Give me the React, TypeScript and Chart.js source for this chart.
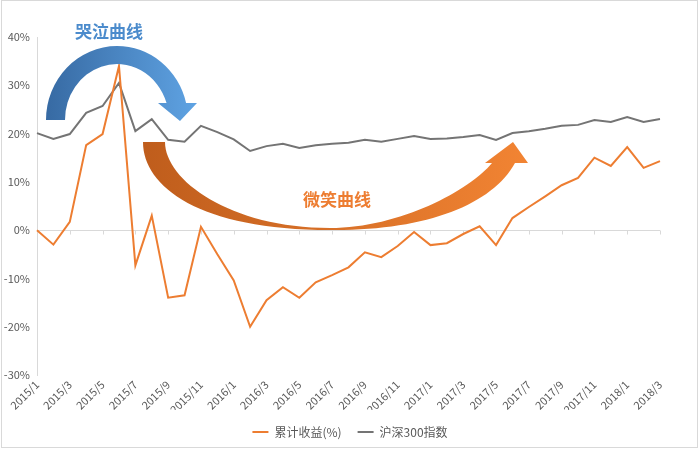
import { useEffect, useRef } from 'react';
import { Chart, registerables } from 'chart.js';

Chart.register(...registerables);

const months = [
  '2015/1', '2015/2', '2015/3', '2015/4', '2015/5', '2015/6', '2015/7', '2015/8', '2015/9', '2015/10', '2015/11', '2015/12',
  '2016/1', '2016/2', '2016/3', '2016/4', '2016/5', '2016/6', '2016/7', '2016/8', '2016/9', '2016/10', '2016/11', '2016/12',
  '2017/1', '2017/2', '2017/3', '2017/4', '2017/5', '2017/6', '2017/7', '2017/8', '2017/9', '2017/10', '2017/11', '2017/12',
  '2018/1', '2018/2', '2018/3',
];

const cumulativeReturn = [
  0, -3, 1.7, 17.6, 19.9, 34, -7.3, 3, -14, -13.5, 0.7, -5,
  -10.4, -20, -14.5, -11.8, -14, -10.8, -9.3, -7.7, -4.6, -5.6, -3.3, -0.4,
  -3.1, -2.7, -0.8, 0.8, -3.1, 2.5, 4.8, 7, 9.3, 10.8, 15, 13.3,
  17.2, 12.9, 14.3,
];

const csi300 = [
  20.1, 18.9, 19.9, 24.3, 25.7, 30.5, 20.5, 23, 18.7, 18.3, 21.6, 20.3,
  18.8, 16.4, 17.4, 17.9, 17.0, 17.6, 17.9, 18.1, 18.7, 18.3, 18.9, 19.5,
  18.9, 19.0, 19.3, 19.7, 18.7, 20.1, 20.5, 21.0, 21.6, 21.8, 22.8, 22.4,
  23.4, 22.4, 23.0,
];

const seriesNames = ['累计收益(%)', '沪深300指数'];
const annotationTexts = ['哭泣曲线', '微笑曲线'];

const FONT = '"Noto Sans CJK SC", "Noto Sans", sans-serif';
const ORANGE = '#ed7d31';
const GRAY = '#747474';
const TEXT = '#595959';

const decorPlugin = {
  id: 'decor',
  beforeDraw(chart: any) {
    const ctx = chart.ctx;
    ctx.save();
    ctx.fillStyle = '#ffffff';
    ctx.fillRect(0, 0, chart.width, chart.height);
    ctx.strokeStyle = '#d9d9d9';
    ctx.lineWidth = 1;
    ctx.strokeRect(1.5, 0.5, 696, 447);
    ctx.restore();
  },
  beforeDatasetsDraw(chart: any) {
    const ctx = chart.ctx;
    const xs = chart.scales.x;
    const y0 = Math.round(chart.scales.y.getPixelForValue(0)) + 0.5;
    ctx.save();
    ctx.strokeStyle = '#d9d9d9';
    ctx.lineWidth = 1;
    ctx.beginPath();
    for (let i = 0; i < months.length; i += 2) {
      const x = Math.round(xs.getPixelForValue(i)) + 0.5;
      ctx.moveTo(x, y0);
      ctx.lineTo(x, y0 + 4);
    }
    ctx.stroke();
    ctx.restore();
  },
  afterDraw(chart: any) {
    const ctx = chart.ctx;
    ctx.save();

    // Blue "crying" arrow
    const bx = 117, by = 120;
    const oRx = 71, oRy = 74, iRx = 52, iRy = 56, endY = 103;
    const aO = 2 * Math.PI - Math.asin((by - endY) / oRy);
    const aI = 2 * Math.PI - Math.asin((by - endY) / iRy);
    const bg = ctx.createLinearGradient(46, 0, 197, 0);
    bg.addColorStop(0, '#376aa3');
    bg.addColorStop(1, '#5fa3e3');
    ctx.fillStyle = bg;
    ctx.beginPath();
    ctx.ellipse(bx, by, oRx, oRy, 0, Math.PI, aO, false);
    ctx.lineTo(197, endY);
    ctx.lineTo(180, 121);
    ctx.lineTo(158, endY);
    ctx.ellipse(bx, by, iRx, iRy, 0, aI, Math.PI, true);
    ctx.closePath();
    ctx.fill();

    // Orange "smile" arrow
    const og = ctx.createLinearGradient(143, 0, 528, 0);
    og.addColorStop(0, '#bf5d1c');
    og.addColorStop(1, '#f28433');
    ctx.fillStyle = og;
    ctx.beginPath();
    ctx.moveTo(143, 142);
    ctx.bezierCurveTo(143, 187, 200, 230, 330, 230);
    ctx.bezierCurveTo(425, 231, 492, 205, 515, 163);
    ctx.lineTo(528, 163);
    ctx.lineTo(513, 142);
    ctx.lineTo(485, 163);
    ctx.lineTo(492, 163);
    ctx.bezierCurveTo(470, 190, 400, 228, 330, 228);
    ctx.bezierCurveTo(230, 228, 165, 180, 165, 142);
    ctx.closePath();
    ctx.fill();

    ctx.font = 'bold 17px ' + FONT;
    ctx.textAlign = 'center';
    ctx.textBaseline = 'middle';
    ctx.fillStyle = '#4b8bcc';
    ctx.fillText(annotationTexts[0], 109, 32);
    ctx.fillStyle = ORANGE;
    ctx.fillText(annotationTexts[1], 337, 200);
    ctx.restore();
  },
};

export default function App() {
  const canvasRef = useRef<HTMLCanvasElement | null>(null);

  useEffect(() => {
    if (!canvasRef.current) return;
    const chart = new Chart(canvasRef.current, {
      type: 'line',
      data: {
        labels: months,
        datasets: [
          {
            label: seriesNames[0],
            data: cumulativeReturn,
            borderColor: ORANGE,
            backgroundColor: ORANGE,
            borderWidth: 2,
            pointRadius: 0,
            tension: 0,
          },
          {
            label: seriesNames[1],
            data: csi300,
            borderColor: GRAY,
            backgroundColor: GRAY,
            borderWidth: 2,
            pointRadius: 0,
            tension: 0,
          },
        ],
      },
      options: {
        animation: false,
        responsive: false,
        layout: { padding: { left: 0, right: 0, top: 37, bottom: 2 } },
        plugins: {
          legend: {
            position: 'bottom',
            labels: {
              usePointStyle: true,
              pointStyle: 'line',
              pointStyleWidth: 16,
              boxHeight: 12,
              padding: 16,
              color: TEXT,
              font: { family: FONT, size: 12 },
            },
          },
          tooltip: { enabled: false },
        },
        scales: {
          x: {
            grid: { display: false, drawTicks: false },
            border: { display: false },
            afterFit: (s: any) => { s.height = 35; },
            ticks: {
              autoSkip: false,
              maxRotation: 45,
              minRotation: 45,
              padding: 3,
              color: TEXT,
              font: { family: FONT, size: 11 },
              callback: function (this: any, value: any, index: number) {
                return index % 2 === 0 ? this.getLabelForValue(value) : '';
              },
            },
          },
          y: {
            min: -30,
            max: 40,
            afterFit: (s: any) => { s.width = 37; },
            border: { display: true, color: '#d9d9d9' },
            grid: {
              drawTicks: false,
              color: (c: any) => (c.tick && c.tick.value === 0 ? '#d9d9d9' : 'rgba(0,0,0,0)'),
            },
            ticks: {
              stepSize: 10,
              padding: 7,
              color: TEXT,
              font: { family: FONT, size: 11 },
              callback: (v: any) => v + '%',
            },
          },
          yRight: {
            position: 'right',
            min: -30,
            max: 40,
            afterFit: (s: any) => { s.width = 40; },
            grid: { display: false, drawTicks: false },
            border: { display: false },
            ticks: { display: false },
          },
        },
      },
      plugins: [decorPlugin],
    });
    return () => chart.destroy();
  }, []);

  return (
    <div style={{ position: 'absolute', left: 0, top: 0, width: 700, height: 450, background: '#fff' }}>
      <canvas ref={canvasRef} width={700} height={450} style={{ display: 'block' }} />
    </div>
  );
}
